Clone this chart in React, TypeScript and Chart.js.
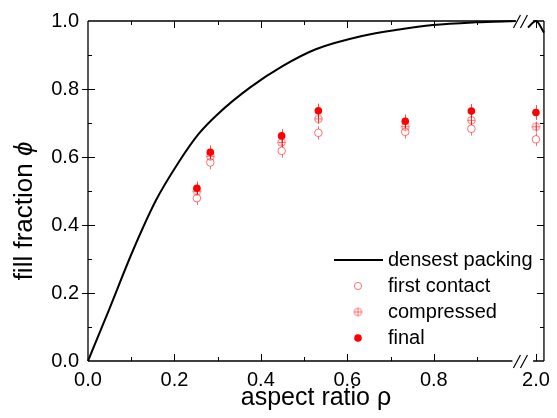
import React, { useEffect, useRef } from 'react';
import { Chart, registerables } from 'chart.js';
Chart.register(...registerables);

// ---- data ----
const RHO = [0.252, 0.283, 0.448, 0.533, 0.734, 0.887, 2.0];
const PHI_FIRST = [0.479, 0.584, 0.618, 0.671, 0.674, 0.683, 0.652];
const PHI_COMP = [0.499, 0.602, 0.643, 0.712, 0.689, 0.708, 0.689];
const PHI_FINAL = [0.508, 0.614, 0.662, 0.736, 0.705, 0.735, 0.731];
const ERR_FIRST = [0.02, 0.02, 0.02, 0.02, 0.02, 0.02, 0.02];
const ERR_COMP = [0.015, 0.015, 0.015, 0.015, 0.015, 0.015, 0.015];
const ERR_FINAL = [0.02, 0.02, 0.02, 0.021, 0.02, 0.021, 0.022];

const CURVE_RHO = [0, 0.05, 0.104, 0.157, 0.2105, 0.256, 0.3, 0.3745, 0.451, 0.527, 0.634, 0.72, 0.798, 0.897, 0.99];
const CURVE_PHI = [0, 0.155, 0.325, 0.472, 0.586, 0.668, 0.726, 0.804, 0.868, 0.917, 0.956, 0.975, 0.988, 0.996, 1.0];
const CURVE_RHO_HI = [1.8, 2.0, 2.2];
const CURVE_PHI_HI = [0.981, 1.0, 0.966];

const X_TICKS = [0, 0.2, 0.4, 0.6, 0.8, 2.0];
const X_MINOR = [0.1, 0.3, 0.5, 0.7, 0.9];
const X_MAJOR_MARKS = [0.2, 0.4, 0.6, 0.8, 2.0];
const Y_MAJOR = [0.2, 0.4, 0.6, 0.8];
const Y_MINOR = [0.1, 0.3, 0.5, 0.7, 0.9];

const LEGEND_LABELS = ['densest packing', 'first contact', 'compressed', 'final'];
const X_TITLE = 'aspect ratio \u03C1';
const Y_TITLE = 'fill fraction ';
const Y_TITLE_SYMBOL = '\u03D5';

// ---- broken axis mapping ----
const POS_TWO = 1.0364; // axis position of rho = 2.0
const HI_SLOPE = 0.0925;
const toAxis = (r: number) => (r <= 1 ? r : POS_TWO + (r - 2) * HI_SLOPE);
const X_MAX = toAxis(2.2);
const GAP_LO = 0.982;
const GAP_HI = 1.0297;

const FONT = 'Liberation Sans, Arial, sans-serif';
const RED = '#ff0000';
const PINK = 'rgba(255,0,0,0.55)';

function makeCrossCircle(): HTMLCanvasElement {
  const c = document.createElement('canvas');
  c.width = 11;
  c.height = 11;
  const g = c.getContext('2d')!;
  g.strokeStyle = PINK;
  g.lineWidth = 1;
  g.beginPath();
  g.arc(5.5, 5.5, 3.8, 0, Math.PI * 2);
  g.stroke();
  g.beginPath();
  g.moveTo(1.7, 5.5);
  g.lineTo(9.3, 5.5);
  g.moveTo(5.5, 1.7);
  g.lineTo(5.5, 9.3);
  g.stroke();
  return c;
}

export default function App() {
  const ref = useRef<HTMLCanvasElement>(null);

  useEffect(() => {
    const crossCircle = makeCrossCircle();

    const pts = (ys: number[]) => RHO.map((r, i) => ({ x: toAxis(r), y: ys[i] }));
    const curve: any[] = CURVE_RHO.map((r, i) => ({ x: toAxis(r), y: CURVE_PHI[i] }));
    curve.push({ x: (GAP_LO + GAP_HI) / 2, y: null });
    CURVE_RHO_HI.forEach((r, i) => curve.push({ x: toAxis(r), y: CURVE_PHI_HI[i] }));

    const errorSeries = [
      { ys: PHI_FIRST, err: ERR_FIRST, color: PINK },
      { ys: PHI_COMP, err: ERR_COMP, color: PINK },
      { ys: PHI_FINAL, err: ERR_FINAL, color: 'rgba(255,0,0,0.7)' },
    ];

    const decorPlugin = {
      id: 'decor',
      beforeDatasetsDraw(chart: any) {
        const ctx = chart.ctx;
        const xs = chart.scales.x;
        const ys = chart.scales.y;
        ctx.save();
        ctx.lineWidth = 1;
        errorSeries.forEach((s) => {
          ctx.strokeStyle = s.color;
          RHO.forEach((r, i) => {
            const x = Math.round(xs.getPixelForValue(toAxis(r))) + 0.5;
            ctx.beginPath();
            ctx.moveTo(x, ys.getPixelForValue(s.ys[i] + s.err[i]));
            ctx.lineTo(x, ys.getPixelForValue(s.ys[i] - s.err[i]));
            ctx.stroke();
          });
        });
        ctx.restore();
      },
      afterDraw(chart: any) {
        const ctx = chart.ctx;
        const xs = chart.scales.x;
        const ys = chart.scales.y;
        const { left, right, top, bottom } = chart.chartArea;
        const gx1 = xs.getPixelForValue(GAP_LO);
        const gx2 = xs.getPixelForValue(GAP_HI);
        ctx.save();
        ctx.strokeStyle = '#000';
        ctx.lineWidth = 1.3;
        ctx.lineCap = 'butt';
        // frame
        ctx.beginPath();
        ctx.moveTo(left, top);
        ctx.lineTo(left, bottom);
        ctx.moveTo(right, top);
        ctx.lineTo(right, bottom);
        ctx.moveTo(left, bottom);
        ctx.lineTo(gx1, bottom);
        ctx.moveTo(gx2, bottom);
        ctx.lineTo(right, bottom);
        ctx.moveTo(left, top);
        ctx.lineTo(gx1, top);
        ctx.moveTo(gx2, top);
        ctx.lineTo(right, top);
        ctx.stroke();
        // ticks
        ctx.lineWidth = 1;
        ctx.beginPath();
        const xTick = (r: number, len: number) => {
          const x = Math.round(xs.getPixelForValue(toAxis(r))) + 0.5;
          ctx.moveTo(x, bottom);
          ctx.lineTo(x, bottom - len);
          ctx.moveTo(x, top);
          ctx.lineTo(x, top + len);
        };
        X_MAJOR_MARKS.forEach((r) => xTick(r, 7));
        X_MINOR.forEach((r) => xTick(r, 4));
        const yTick = (v: number, inLen: number, outLen: number) => {
          const y = Math.round(ys.getPixelForValue(v)) + 0.5;
          ctx.moveTo(left - outLen, y);
          ctx.lineTo(left + inLen, y);
          ctx.moveTo(right, y);
          ctx.lineTo(right - inLen, y);
        };
        Y_MAJOR.forEach((v) => yTick(v, 7, 6));
        Y_MINOR.forEach((v) => yTick(v, 4, 0));
        ctx.stroke();
        // break marks
        ctx.lineWidth = 1.2;
        ctx.beginPath();
        [top, bottom].forEach((yy) => {
          [0, 7].forEach((dx) => {
            ctx.moveTo(gx1 + 1 + dx, yy + 7);
            ctx.lineTo(gx1 + 8 + dx, yy - 6);
          });
        });
        ctx.stroke();

        // legend
        const rowY = [260, 286, 312, 338];
        const markX = 358;
        ctx.strokeStyle = '#000';
        ctx.lineWidth = 2;
        ctx.beginPath();
        ctx.moveTo(334, rowY[0]);
        ctx.lineTo(383, rowY[0]);
        ctx.stroke();
        ctx.lineWidth = 1;
        ctx.strokeStyle = PINK;
        ctx.fillStyle = '#fff';
        ctx.beginPath();
        ctx.arc(markX, rowY[1], 3.6, 0, Math.PI * 2);
        ctx.fill();
        ctx.stroke();
        ctx.drawImage(crossCircle, markX - 5.5, rowY[2] - 5.5);
        ctx.fillStyle = RED;
        ctx.beginPath();
        ctx.arc(markX, rowY[3], 3.8, 0, Math.PI * 2);
        ctx.fill();
        ctx.fillStyle = '#000';
        ctx.font = `20px ${FONT}`;
        ctx.textAlign = 'left';
        ctx.textBaseline = 'middle';
        LEGEND_LABELS.forEach((t, i) => ctx.fillText(t, 388, rowY[i]));

        // y title
        ctx.translate(32, 211);
        ctx.rotate(-Math.PI / 2);
        ctx.textBaseline = 'alphabetic';
        ctx.font = `26px ${FONT}`;
        const w1 = ctx.measureText(Y_TITLE).width;
        ctx.font = `italic 26px ${FONT}`;
        const w2 = ctx.measureText(Y_TITLE_SYMBOL).width;
        const start = -(w1 + w2) / 2;
        ctx.font = `26px ${FONT}`;
        ctx.fillText(Y_TITLE, start, 0);
        ctx.font = `italic 26px ${FONT}`;
        ctx.fillText(Y_TITLE_SYMBOL, start + w1, 0);
        ctx.restore();
      },
    };

    Chart.defaults.font.family = FONT;
    Chart.defaults.color = '#000';

    const chart = new Chart(ref.current!, {
      type: 'scatter',
      data: {
        datasets: [
          {
            label: LEGEND_LABELS[3],
            data: pts(PHI_FINAL),
            pointStyle: 'circle',
            pointRadius: 3.8,
            backgroundColor: RED,
            borderColor: RED,
            borderWidth: 0,
            showLine: false,
          },
          {
            label: LEGEND_LABELS[2],
            data: pts(PHI_COMP),
            pointStyle: crossCircle as any,
            pointRadius: 4,
            showLine: false,
          },
          {
            label: LEGEND_LABELS[1],
            data: pts(PHI_FIRST),
            pointStyle: 'circle',
            pointRadius: 3.8,
            backgroundColor: '#fff',
            borderColor: PINK,
            borderWidth: 1,
            showLine: false,
          },
          {
            label: LEGEND_LABELS[0],
            data: curve,
            showLine: true,
            pointRadius: 0,
            borderColor: '#000',
            borderWidth: 2,
            cubicInterpolationMode: 'monotone',
            spanGaps: false,
            clip: 6,
          } as any,
        ],
      },
      options: {
        responsive: false,
        animation: false,
        devicePixelRatio: 1,
        layout: { padding: { top: 20, right: 8, left: 0, bottom: 0 } },
        plugins: { legend: { display: false }, tooltip: { enabled: false } },
        scales: {
          x: {
            type: 'linear',
            min: 0,
            max: X_MAX,
            grid: { display: false, drawTicks: false },
            border: { display: false },
            afterBuildTicks: (s: any) => {
              s.ticks = X_TICKS.map((r) => ({ value: toAxis(r) }));
            },
            afterFit: (s: any) => {
              s.height = 57;
            },
            ticks: {
              autoSkip: false,
              maxRotation: 0,
              padding: 7,
              font: { size: 20 },
              callback: (v: any) => {
                const r = X_TICKS.find((t) => Math.abs(toAxis(t) - Number(v)) < 1e-6);
                return r === undefined ? '' : r.toFixed(1);
              },
            },
            title: {
              display: true,
              text: X_TITLE,
              font: { size: 25 },
              padding: { top: 0, bottom: 5 },
            },
          },
          y: {
            min: 0,
            max: 1,
            grid: { display: false, drawTicks: false },
            border: { display: false },
            afterFit: (s: any) => {
              s.width = 88;
            },
            ticks: {
              stepSize: 0.2,
              padding: 9,
              font: { size: 20 },
              callback: (v: any) => Number(v).toFixed(1),
            },
          },
        },
      },
      plugins: [decorPlugin],
    });
    return () => chart.destroy();
  }, []);

  return (
    <div style={{ position: 'fixed', left: 0, top: 0, width: 557, height: 418, background: '#fff' }}>
      <canvas ref={ref} width={557} height={418} style={{ display: 'block', width: 557, height: 418 }} />
    </div>
  );
}
